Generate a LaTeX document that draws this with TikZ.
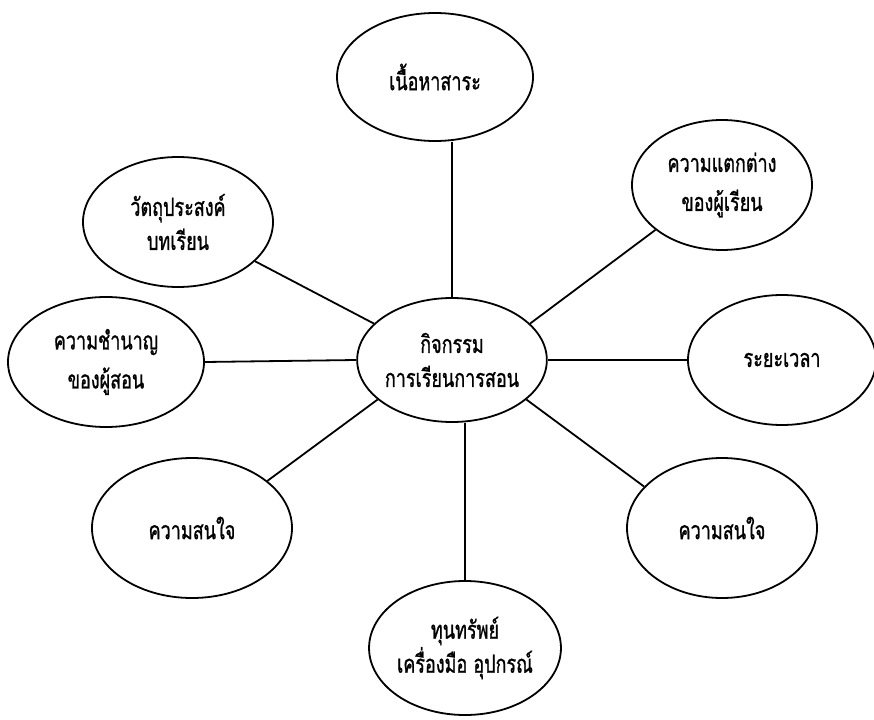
\documentclass[tikz,border=0pt]{standalone}
\usepackage{fontspec}
\newfontfamily\thaifont[Script=Thai,FakeStretch=0.72,FakeBold=1]{Loma}
\usetikzlibrary{shapes.geometric}
\begin{document}
\begin{tikzpicture}[x=1pt,y=-1pt,
  topic/.style={ellipse, draw, line width=1.8pt, inner sep=0pt, align=center,
    font=\thaifont\fontsize{25}{34}\selectfont},
  widegap/.style={font=\thaifont\fontsize{25}{39}\selectfont},
  link/.style={line width=1.8pt}]
\useasboundingbox (0,0) rectangle (874,719);
% hub
\node[topic, minimum width=186, minimum height=124] (C) at (452,360) {กิจกรรม\\การเรียนการสอน};
% surrounding topics
\node[topic, minimum width=196, minimum height=128] (T) at (435,77) {เนื้อหาสาระ};
\node[topic, widegap, minimum width=180, minimum height=130] (D) at (722,185) {ความแตกต่าง\\ของผู้เรียน};
\node[topic, minimum width=190, minimum height=130] (W) at (178,222) {วัตถุประสงค์\\บทเรียน};
\node[topic, widegap, minimum width=196, minimum height=130] (K) at (106,362) {ความชำนาญ\\ของผู้สอน};
\node[topic, minimum width=188, minimum height=130] (R) at (782,360) {ระยะเวลา};
\node[topic, minimum width=200, minimum height=140] (L) at (192,528) {ความสนใจ};
\node[topic, minimum width=190, minimum height=140] (S) at (722,528) {ความสนใจ};
\node[topic, minimum width=184, minimum height=134] (B) at (465,648) {ทุนทรัพย์\\เครื่องมือ อุปกรณ์};
% spokes
\draw[link] (C.north) -- (C.north |- T.south);
\draw[link] (C.south -| B.north) -- (B.north);
\draw[link] (K.east) -- (C.west);
\draw[link] (C.east) -- (R.west);
\draw[link] (W.-27) -- (C.155);
\draw[link] (D.214) -- (C.25);
\draw[link] (L.32) -- (C.208);
\draw[link] (S.152) -- (C.-28);
\end{tikzpicture}
\end{document}
